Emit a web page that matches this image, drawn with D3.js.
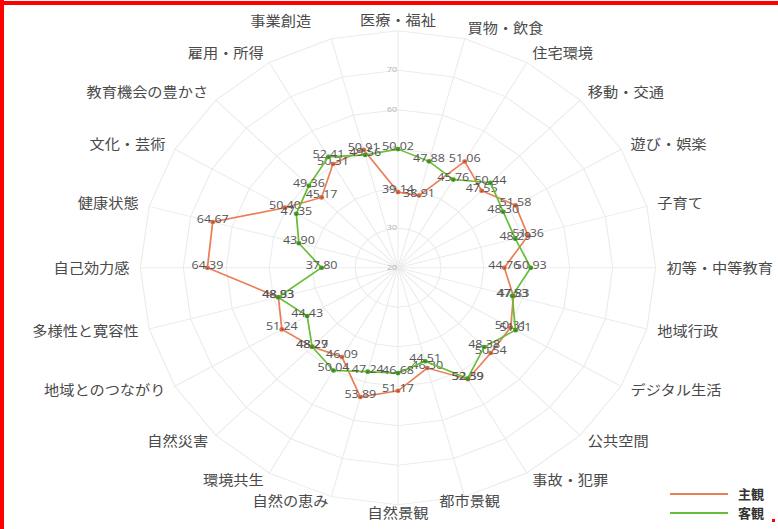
<!DOCTYPE html>
<html><head><meta charset="utf-8">
<script src="https://cdn.jsdelivr.net/npm/d3@7"></script>
<style>html,body{margin:0;padding:0;background:#fff;}svg{display:block;}</style>
</head><body>
<svg id="chart" width="778" height="529"></svg>
<script>
const categories = ["医療・福祉","買物・飲食","住宅環境","移動・交通","遊び・娯楽","子育て","初等・中等教育","地域行政","デジタル生活","公共空間","事故・犯罪","都市景観","自然景観","自然の恵み","環境共生","自然災害","地域とのつながり","多様性と寛容性","自己効力感","健康状態","文化・芸術","教育機会の豊かさ","雇用・所得","事業創造"];
const subjective = [39.14,38.91,51.06,47.55,51.58,51.36,44.76,47.83,50.31,50.54,52.59,46.30,51.17,53.89,46.09,48.27,51.24,48.83,64.39,64.67,50.40,45.17,50.31,50.91];
const objective  = [50.02,47.88,45.76,50.44,48.30,48.29,50.93,47.53,51.61,48.38,52.39,44.51,46.68,47.24,50.04,48.29,44.43,48.93,37.80,43.90,47.35,49.36,52.41,49.56];
const radialTicks = [20,30,40,50,60,70];
const seriesNames = ["主観","客観"];
const seriesColors = ["#ea7f56","#67be36"];

const svg = d3.select("#chart");
svg.append("rect").attr("width",778).attr("height",529).attr("fill","#fff");
// red frame fragments
svg.append("line").attr("x1",2).attr("y1",0).attr("x2",2).attr("y2",529).attr("stroke","#f00").attr("stroke-width",4);
svg.append("line").attr("x1",0).attr("y1",3).attr("x2",778).attr("y2",3).attr("stroke","#f00").attr("stroke-width",4);
svg.append("rect").attr("x",772).attr("y",519).attr("width",3).attr("height",3).attr("fill","#f00");

const cx = 398, cy = 267.7, sx = 1.087;
const R = 237;
const r = d3.scaleLinear().domain([20,80]).range([0,R]);
const n = categories.length;
const ang = d3.scaleLinear().domain([0,n]).range([0,2*Math.PI]);
const g = svg.append("g").attr("transform",`translate(${cx},${cy}) scale(${sx},1)`);

// grid rings
const ringTicks = [30,40,50,60,70,80];
const ringLine = d3.lineRadial().angle((d,i)=>ang(i)).radius(d=>r(d)).curve(d3.curveLinearClosed);
ringTicks.forEach(t=>{
  g.append("path").attr("d",ringLine(categories.map(()=>t))).attr("fill","none").attr("stroke","#ebebeb").attr("stroke-width",1);
});
// spokes
categories.forEach((c,i)=>{
  const a = ang(i);
  g.append("line").attr("x1",0).attr("y1",0).attr("x2",R*Math.sin(a)).attr("y2",-R*Math.cos(a)).attr("stroke","#ebebeb").attr("stroke-width",1);
});
// radial tick labels
radialTicks.forEach(t=>{
  g.append("text").attr("x",-5.5).attr("y",-r(t)-1).attr("dy","0.35em").attr("text-anchor","middle")
   .attr("font-family","'Open Sans','Noto Sans',sans-serif").attr("font-size",8).attr("fill","#b0b0b0").text(t);
});
// category labels (layout tweaks for labels that sit off the regular rule in the reference)
const labelTweak = {"事業創造":{dx:-16,dy:-7}, "都市景観":{anchor:"middle",dx:2,dy:-3}, "自然の恵み":{dy:-3}};
categories.forEach((c,i)=>{
  const a = ang(i), s = Math.sin(a), co = Math.cos(a);
  const tw = labelTweak[c] || {};
  const x = R*s + s*10 + (tw.dx||0);
  const y = -R*co - co*(co>0?11:8) + (tw.dy||0);
  const anchor = tw.anchor || (s>0.2?"start":(s<-0.2?"end":"middle"));
  g.append("text").attr("x",x).attr("y",y).attr("dy","0.35em").attr("text-anchor",anchor)
   .attr("font-family","'Noto Sans CJK JP',sans-serif").attr("font-size",14).attr("fill","#4a4a4a").text(c);
});

const seriesData = [subjective, objective];
const line = d3.lineRadial().angle((d,i)=>ang(i)).radius(d=>r(d)).curve(d3.curveLinearClosed);
seriesData.forEach((vals,k)=>{
  const sg = g.append("g");
  sg.append("path").attr("d",line(vals)).attr("fill","none").attr("stroke",seriesColors[k]).attr("stroke-width",1.6);
  sg.selectAll("circle").data(vals).join("circle")
    .attr("cx",(d,i)=>r(d)*Math.sin(ang(i))).attr("cy",(d,i)=>-r(d)*Math.cos(ang(i)))
    .attr("r",2.3).attr("fill",k===0?"#e0683c":"#3fa11c");
  sg.selectAll("text").data(vals).join("text")
    .attr("x",(d,i)=>r(d)*Math.sin(ang(i))).attr("y",(d,i)=>-r(d)*Math.cos(ang(i))-3)
    .attr("dy","0.35em").attr("text-anchor","middle")
    .attr("font-family","'Open Sans','Noto Sans',sans-serif").attr("font-size",11.5).attr("fill","#555")
    .text(d=>d.toFixed(2));
});

// legend
const lg = svg.append("g");
seriesNames.forEach((nm,k)=>{
  const y = 494 + k*19;
  lg.append("line").attr("x1",670).attr("x2",728).attr("y1",y).attr("y2",y).attr("stroke",seriesColors[k]).attr("stroke-width",2.2);
  lg.append("text").attr("x",738).attr("y",y).attr("dy","0.35em").attr("font-family","'Noto Sans CJK JP',sans-serif")
    .attr("font-size",13).attr("font-weight","bold").attr("fill","#333").text(nm);
});
</script>
</body></html>
